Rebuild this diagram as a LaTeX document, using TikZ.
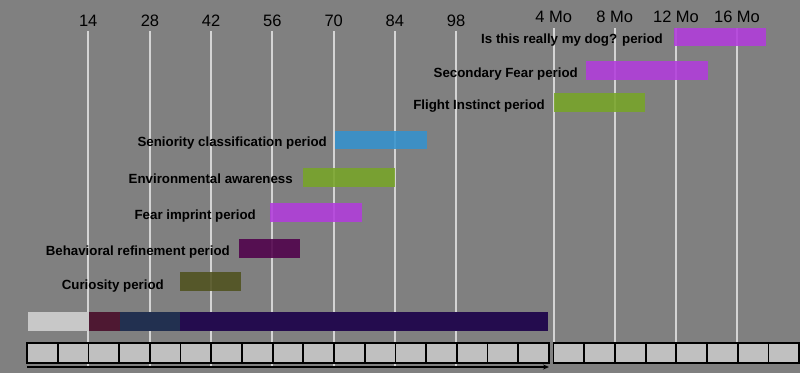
\documentclass[tikz,border=0pt]{standalone}
\usepackage{fontspec}
\setmainfont{Liberation Sans}
\usetikzlibrary{arrows.meta}
\definecolor{bgc}{RGB}{128,128,128}
\definecolor{gridc}{RGB}{212,212,212}
\definecolor{magc}{RGB}{178,60,220}
\definecolor{grnc}{RGB}{120,165,40}
\definecolor{bluc}{RGB}{52,146,206}
\definecolor{behc}{RGB}{80,0,75}
\definecolor{curc}{RGB}{80,82,30}
\definecolor{segA}{RGB}{200,200,200}
\definecolor{segB}{RGB}{78,24,50}
\definecolor{segC}{RGB}{34,48,80}
\definecolor{segD}{RGB}{36,12,78}
\definecolor{cellc}{RGB}{192,192,192}
\tikzset{
  bar/.style={draw=none, fill opacity=0.88, inner sep=0pt, anchor=north west, rectangle},
  seg/.style={draw=none, inner sep=0pt, anchor=north west, rectangle},
  lbl/.style={font=\bfseries\fontsize{13.3}{15}\selectfont, inner sep=0pt, anchor=base east, text=black},
  tick/.style={font=\fontsize{16.5}{18}\selectfont, inner sep=0pt, anchor=base, text=black},
  gridline/.style={draw=gridc, line width=1.8pt},
  cell/.style={draw=black, fill=cellc, line width=1.8pt},
}
\begin{document}
\begin{tikzpicture}[x=1pt,y=-1pt]
\useasboundingbox (0,0) rectangle (800,373);
\fill[bgc] (0,0) rectangle (800,373);

% grid lines
\foreach \x in {88.2,150,211,272.3,333.7,394.8,456}
  \draw[gridline] (\x,31) -- (\x,367);
\foreach \x in {553.7,614.7,676,737}
  \draw[gridline] (\x,28) -- (\x,343);

% tick labels
\node[tick] (t14) at (88.2,26.6) {14};
\node[tick] (t28) at (150,26.6) {28};
\node[tick] (t42) at (211,26.6) {42};
\node[tick] (t56) at (272.3,26.6) {56};
\node[tick] (t70) at (333.7,26.6) {70};
\node[tick] (t84) at (394.8,26.6) {84};
\node[tick] (t98) at (456,26.6) {98};
\node[tick] (m4) at (553.7,22) {4 Mo};
\node[tick] (m8) at (614.7,22) {8 Mo};
\node[tick] (m12) at (676,22) {12 Mo};
\node[tick] (m16) at (737,22) {16 Mo};

% period bars
\node[bar, fill=magc, minimum width=92pt, minimum height=18pt] (bdog) at (674,28) {};
\node[bar, fill=magc, minimum width=122pt, minimum height=19pt] (bsec) at (586,61) {};
\node[bar, fill=grnc, minimum width=91pt, minimum height=19pt] (bfli) at (554,93) {};
\node[bar, fill=bluc, minimum width=92pt, minimum height=18pt] (bsen) at (335,131) {};
\node[bar, fill=grnc, minimum width=92pt, minimum height=19pt] (benv) at (303,168) {};
\node[bar, fill=magc, minimum width=92pt, minimum height=19pt] (bfea) at (270,203) {};
\node[bar, fill=behc, minimum width=61pt, minimum height=19pt] (bbeh) at (239,239) {};
\node[bar, fill=curc, minimum width=61pt, minimum height=19pt] (bcur) at (180,272) {};

% period labels
\node[lbl] (ldog) at (663,43.8) {Is this really my dog? period};
\node[lbl] (lsec) at (578,77.3) {Secondary Fear period};
\node[lbl] (lfli) at (545,109.1) {Flight Instinct period};
\node[lbl] (lsen) at (327,146.3) {Seniority classification period};
\node[lbl] (lenv) at (293,183.6) {Environmental awareness};
\node[lbl] (lfea) at (256,219.8) {Fear imprint period};
\node[lbl] (lbeh) at (230,255.8) {Behavioral refinement period};
\node[lbl] (lcur) at (164,289.1) {Curiosity period};

% bottom timeline bar
\node[seg, fill=segA, minimum width=61pt, minimum height=19pt] (sA) at (28,312) {};
\node[seg, fill=segB, minimum width=30.5pt, minimum height=19pt] (sB) at (89,312) {};
\node[seg, fill=segC, minimum width=61pt, minimum height=19pt] (sC) at (119.5,312) {};
\node[seg, fill=segD, minimum width=368pt, minimum height=19pt] (sD) at (180,312) {};

% cells
\foreach \i in {0,...,16}
  \draw[cell] ({27+\i*30.7},343) rectangle ({27+(\i+1)*30.7},363);
\foreach \i in {0,...,7}
  \draw[cell] ({553.5+\i*30.7},343) rectangle ({553.5+(\i+1)*30.7},363);

% arrow
\coordinate (aS) at (27,367);
\coordinate (aE) at (549,367);
\draw[black, line width=1.3pt, -{Stealth[length=6pt,width=5pt]}] (aS) -- (aE);
\end{tikzpicture}
\end{document}
